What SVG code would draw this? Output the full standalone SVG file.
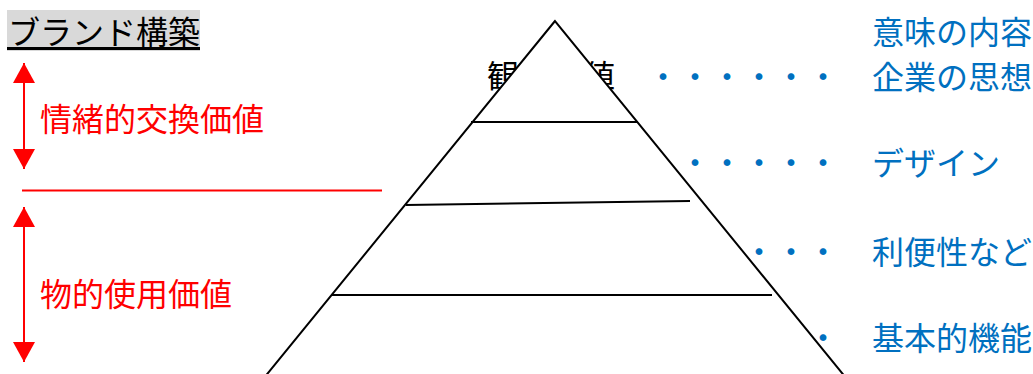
<svg xmlns="http://www.w3.org/2000/svg" width="1033" height="374" viewBox="0 0 1033 374">
  <style>
    text { font-family: "Noto Sans CJK JP", "Noto Sans", sans-serif; font-size: 32px; }
    .blue { fill: #0070C0; }
    .red { fill: #FF0000; }
    .blk { fill: #000000; }
    .edge { stroke: #000; stroke-width: 2; fill: none; }
    .redline { stroke: #FF0000; stroke-width: 2; fill: none; }
  </style>
  <defs>
    <marker id="ah" markerUnits="userSpaceOnUse" markerWidth="20" markerHeight="22" refX="20" refY="11" orient="auto-start-reverse">
      <path d="M0,0 L20,11 L0,22 z" fill="#FF0000"/>
    </marker>
  </defs>
  <rect width="1033" height="374" fill="#ffffff"/>

  <g id="title">
    <rect x="7" y="10" width="193" height="41" fill="#D9D9D9"/>
    <text x="8" y="44" class="blk">ブランド構築</text>
    <line x1="7" y1="48.5" x2="200" y2="48.5" stroke="#000" stroke-width="3"/>
  </g>

  <g id="apex-label">
    <text x="487" y="88" class="blk">観念価値</text>
  </g>

  <g id="pyramid">
    <polygon points="555,21 246,400 864,400" fill="#ffffff" stroke="#000" stroke-width="2"/>
  </g>

  <g id="connectors">
    <line class="edge" x1="471" y1="122" x2="638" y2="122"/>
    <line class="edge" x1="406" y1="205" x2="690" y2="201"/>
    <line class="edge" x1="332" y1="295" x2="772" y2="295"/>
    <line class="redline" x1="22" y1="190.5" x2="382" y2="190.5"/>
    <line class="redline" x1="24" y1="63" x2="24" y2="169" marker-start="url(#ah)" marker-end="url(#ah)"/>
    <line class="redline" x1="24" y1="207" x2="24" y2="362" marker-start="url(#ah)" marker-end="url(#ah)"/>
  </g>

  <g id="label-emotional">
    <text x="40" y="131" class="red">情緒的交換価値</text>
  </g>
  <g id="label-functional">
    <text x="40" y="306" class="red">物的使用価値</text>
  </g>

  <g id="right-labels">
    <text x="872" y="44" class="blue">意味の内容</text>
    <text x="647" y="89" class="blue">・・・・・・</text>
    <text x="872" y="89" class="blue">企業の思想</text>
    <text x="679" y="175" class="blue">・・・・・</text>
    <text x="872" y="175" class="blue">デザイン</text>
    <text x="743" y="264" class="blue">・・・</text>
    <text x="872" y="264" class="blue">利便性など</text>
    <text x="807" y="350" class="blue">・</text>
    <text x="872" y="350" class="blue">基本的機能</text>
  </g>
</svg>
